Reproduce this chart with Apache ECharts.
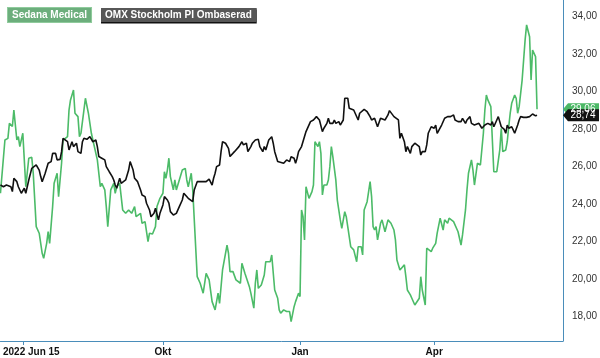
<!DOCTYPE html>
<html>
<head>
<meta charset="utf-8">
<script src="https://cdn.jsdelivr.net/npm/echarts@6/dist/echarts.min.js"></script>
<style>
html,body{margin:0;padding:0;background:#fff;}
#chart{width:600px;height:358px;}
</style>
</head>
<body>
<div id="chart"></div>
<script>
// Start date of the series; points are given as day offsets from it
const startDate = '2022-06-14';
const axisEndDate = '2023-06-26';

const seriesNames = ['Sedana Medical', 'OMX Stockholm PI Ombaserad'];

const sedanaDays = [
0,3,5,6,8,9,11,12,13,15,
16,17,19,21,22,24,26,28,29,31,
32,33,35,36,38,39,41,42,45,46,
47,49,50,52,53,54,56,57,59,60,
61,62,65,67,68,70,71,72,74,76,
77,78,80,82,84,86,88,90,91,94,
95,97,99,100,102,104,105,107,109,110,
111,112,113,114,116,117,118,120,122,124,
125,126,127,128,129,130,132,134,136,138,
140,142,144,146,147,149,152,153,154,156,
158,161,162,164,165,167,168,170,171,172,
173,175,177,178,181,182,184,186,187,188,
190,192,194,195,197,198,200,201,202,203,
204,205,207,209,210,211,212,213,214,215,
216,217,219,220,221,222,223,225,226,228,
229,231,232,233,235,236,237,239,240,242,
243,244,246,248,249,250,251,252,253,255,
256,258,259,260,262,264,265,266,268,269,
271,272,273,275,276,278,279,281,282,283,
285,286,287,289,290,292,293,295,296,297,
298,300,301,302,304,305,307,308,309,310,
312,313,314,316,317,318,319,320,322,323,
324,325,326,327,328,329,330,331,332,333,
335,336,337,339,340,341,342,343,345,346,
347,348,350,351,352,353,355,356,357,358,
359,360];
const sedanaValues = [
24.58,27.42,27.51,28.31,28.14,29.02,27.42,27.60,27.07,27.78,
26.36,24.93,26.45,26.50,25.65,22.80,22.45,21.38,21.11,21.91,
22.53,21.91,23.87,25.11,25.65,24.40,26.18,27.42,27.60,29.02,
29.56,30.09,28.85,28.67,27.60,27.78,29.02,29.65,28.85,28.85,
27.78,27.42,26.36,24.93,25.11,24.76,23.87,22.80,24.76,25.11,
24.58,24.93,25.11,23.69,23.51,23.69,23.51,23.87,23.33,23.51,
22.98,23.07,22.00,22.45,22.41,22.80,23.87,24.31,24.58,25.73,
25.38,25.82,26.45,25.47,24.76,25.29,24.76,25.29,25.82,25.91,
25.29,24.93,25.29,25.65,24.76,24.67,20.13,19.78,19.25,20.31,
19.96,18.80,18.36,19.25,18.71,20.49,21.82,21.38,20.40,20.40,
19.96,19.78,20.85,20.31,20.31,19.60,19.25,18.45,19.78,20.49,
19.51,19.69,20.22,20.93,20.93,21.29,19.42,18.98,18.36,18.18,
18.36,18.27,18.27,17.73,18.53,18.80,19.25,19.07,23.69,23.33,
22.09,24.93,24.31,24.67,25.02,27.33,27.25,27.07,27.33,26.71,
24.49,25.02,25.02,25.29,26.00,27.07,26.53,25.29,24.22,23.16,
22.71,23.60,23.33,22.80,21.73,21.65,21.56,20.93,21.73,21.73,
21.29,23.69,24.13,25.20,24.40,22.80,22.62,22.80,22.09,22.98,
23.16,22.53,22.62,23.16,22.98,22.62,22.09,21.02,20.49,20.58,
20.76,20.13,19.42,19.16,18.98,18.62,18.62,18.98,20.13,19.42,
18.62,21.65,21.56,21.47,21.65,21.91,22.45,23.25,23.16,22.62,
23.16,22.98,23.25,23.25,23.07,22.98,22.53,22.45,21.82,22.36,
23.69,24.76,25.65,26.36,25.82,25.02,25.11,26.18,26.09,26.00,
27.78,29.02,29.82,29.56,29.56,29.20,29.11,25.73,25.73,25.73,
26.89,28.05,26.80,26.89,27.33,28.13,28.85,29.38,29.82,29.65,
28.85,29.20,30.62,31.69,32.76,33.56,32.93,30.62,32.22,32.31,
31.87,29.06];

const omxDays = [
0,2,4,7,8,9,11,12,14,16,
17,19,21,22,24,26,27,28,30,32,
34,35,37,38,40,41,42,43,45,46,
48,49,51,52,54,55,56,58,60,61,
62,64,65,66,68,70,71,73,75,76,
77,78,80,81,82,84,86,87,89,90,
92,94,95,97,98,100,101,103,104,106,
107,109,110,112,113,114,116,118,119,120,
122,123,124,126,127,129,130,132,133,135,
136,138,140,142,143,144,145,147,148,149,
151,153,154,155,157,158,160,162,163,165,
166,168,169,171,173,174,176,177,178,180,
182,183,184,186,187,190,191,192,194,195,
197,198,199,200,202,203,205,206,208,210,
211,212,214,215,216,217,219,220,221,223,
224,225,227,228,230,231,232,233,234,235,
237,238,240,241,242,244,245,246,248,249,
251,252,253,255,256,258,260,261,262,264,
265,267,268,269,270,271,272,273,275,276,
278,279,281,282,283,285,286,287,289,290,
291,292,293,294,296,297,298,300,301,302,
304,305,307,308,309,310,312,313,315,316,
318,319,321,322,323,325,326,327,329,330,
331,333,334,335,336,338,339,340,341,343,
344,345,347,348,349,351,352,353,355,356,
357,359,360];
const omxValues = [
25.02,24.93,25.02,24.93,24.67,25.38,25.20,24.93,24.58,24.85,
24.58,25.29,25.91,25.82,26.09,25.82,25.47,25.20,25.65,26.18,
26.27,26.71,26.71,26.36,26.39,26.80,27.51,27.60,27.33,26.89,
27.33,27.07,27.25,26.80,26.71,27.33,27.51,27.46,27.60,27.57,
27.33,27.42,27.07,26.54,26.45,26.36,26.00,25.73,25.47,25.29,
25.02,24.85,25.38,25.11,25.20,25.29,25.82,26.27,25.82,25.38,
25.20,24.76,24.49,24.40,24.05,23.69,23.33,23.51,23.78,23.16,
23.51,23.96,24.40,24.22,24.05,23.60,23.42,23.51,23.42,23.87,
24.22,24.58,24.67,24.31,24.22,24.13,24.76,25.20,25.29,25.20,
25.29,25.20,25.34,25.02,25.38,25.65,26.00,26.09,26.80,27.33,
27.25,26.98,26.54,26.45,26.80,26.89,27.07,27.33,27.16,27.25,
26.80,27.07,27.25,27.42,27.46,27.07,26.80,27.07,26.89,27.42,
27.60,27.25,26.80,26.27,26.18,26.18,26.09,26.36,26.27,26.53,
26.45,26.18,26.45,26.80,27.07,27.16,27.87,27.96,28.40,28.49,
28.58,28.67,28.49,28.58,27.87,28.05,28.31,28.58,28.31,28.31,
28.49,28.31,28.40,28.22,28.49,29.65,29.70,29.65,29.11,29.11,
29.02,28.93,28.49,28.85,28.85,29.06,29.11,28.93,28.67,28.49,
28.58,28.49,28.13,28.58,28.58,28.49,28.76,28.99,28.93,28.67,
28.63,28.49,27.51,27.78,27.87,27.33,26.80,27.07,26.71,27.07,
27.25,27.16,27.07,26.62,26.80,26.80,27.16,27.78,28.13,28.22,
28.05,28.22,27.78,27.69,28.22,28.31,28.58,28.67,28.76,28.67,
28.76,28.49,28.40,28.49,28.40,28.58,28.31,28.49,28.67,28.31,
28.22,28.22,28.31,28.22,28.05,28.22,28.22,28.31,28.22,28.40,
28.13,28.49,28.67,28.58,28.13,27.99,27.78,28.22,28.05,28.13,
27.96,27.78,28.22,28.49,28.67,28.63,28.71,28.63,28.67,28.67,
28.81,28.71,28.74];

const xTickDates = ['2022-06-29', '2022-10-01', '2023-01-01', '2023-04-01'];
const xTickLabels = ['2022 Jun 15', 'Okt', 'Jan', 'Apr'];
const yTicks = [18, 20, 22, 24, 26, 28, 30, 32, 34];
const yMin = 16.7, yMax = 34.89;

const DAY = 86400000;
function parseDate(s) { const p = s.split('-').map(Number); return Date.UTC(p[0], p[1] - 1, p[2]); }
const t0 = parseDate(startDate);
const dayOf = s => Math.round((parseDate(s) - t0) / DAY);
const xMax = dayOf(axisEndDate) + 0.4;
const xTickDays = xTickDates.map(dayOf);
const toPairs = (days, vals) => days.map((d, i) => [d, vals[i]]);
const fmt = v => v.toFixed(2).replace('.', ',');

const FONT = 'Liberation Sans, Arial, Helvetica, sans-serif';
const AXIS_COLOR = '#4a8dba';
const GREEN = '#4cbb68';

function endMarker(vals, bg) {
  const last = vals[vals.length - 1];
  return {
    silent: true,
    symbol: 'path://M0,6 L5,0 L36,0 L36,12 L5,12 Z',
    symbolSize: [36, 12],
    symbolKeepAspect: false,
    symbolOffset: ['50%', 0],
    itemStyle: { color: bg },
    label: {
      show: true, position: 'inside', offset: [2, 0],
      color: '#fff', fontSize: 10, fontFamily: FONT,
      formatter: p => fmt(p.value)
    },
    data: [{ coord: [xMax, last], value: last }]
  };
}

const chart = echarts.init(document.getElementById('chart'), null, { renderer: 'canvas' });
chart.setOption({
  animation: false,
  backgroundColor: '#fff',
  grid: { left: 0, right: 36, top: 0, bottom: 17, containLabel: false },
  legend: {
    left: -2, top: 2, orient: 'horizontal',
    selectedMode: false,
    icon: 'rect', itemWidth: 0, itemHeight: 0, itemGap: 4,
    data: [
      { name: seriesNames[0], textStyle: {
        color: '#fff', backgroundColor: '#6cae7c', borderColor: '#8fcb9c', borderWidth: 1,
        padding: [2, 4, 1, 4], fontSize: 10, fontWeight: 'bold', fontFamily: FONT, lineHeight: 11 } },
      { name: seriesNames[1], textStyle: {
        color: '#fff', backgroundColor: '#575757',
        shadowColor: '#111', shadowOffsetY: 1.5, shadowBlur: 0,
        padding: [2, 5, 1, 4], fontSize: 10, fontWeight: 'bold', fontFamily: FONT, lineHeight: 11 } }
    ]
  },
  xAxis: {
    type: 'value',
    min: 0, max: xMax,
    axisLine: { show: true, onZero: false, lineStyle: { color: AXIS_COLOR, width: 1 } },
    axisTick: { show: true, customValues: xTickDays, length: 4, lineStyle: { color: AXIS_COLOR } },
    splitLine: { show: false },
    axisLabel: {
      customValues: xTickDays,
      margin: 6,
      fontSize: 10, fontWeight: 'bold', color: '#111', fontFamily: FONT,
      formatter: function (value) {
        const idx = xTickDays.indexOf(value);
        if (idx < 0) return '';
        return idx === 0 ? '{first|' + xTickLabels[0] + '}' : '{n|' + xTickLabels[idx] + '}';
      },
      rich: {
        first: { fontSize: 10, fontWeight: 'bold', color: '#111', fontFamily: FONT, padding: [0, 0, 0, 17] },
        n: { fontSize: 10, fontWeight: 'bold', color: '#111', fontFamily: FONT }
      }
    }
  },
  yAxis: {
    type: 'value',
    position: 'right',
    min: yMin, max: yMax,
    axisLine: { show: true, onZero: false, lineStyle: { color: AXIS_COLOR, width: 1 } },
    axisTick: { show: false },
    splitLine: { show: false },
    axisLabel: {
      customValues: yTicks,
      margin: 9,
      fontSize: 10, color: '#333', fontFamily: FONT,
      formatter: v => fmt(v)
    }
  },
  series: [
    {
      name: seriesNames[0], type: 'line', showSymbol: false, symbol: 'none',
      clip: false,
      color: GREEN,
      lineStyle: { color: GREEN, width: 1.6 },
      data: toPairs(sedanaDays, sedanaValues),
      markPoint: endMarker(sedanaValues, '#4cb866'),
      z: 2
    },
    {
      name: seriesNames[1], type: 'line', showSymbol: false, symbol: 'none',
      clip: false,
      color: '#111',
      lineStyle: { color: '#111', width: 1.6 },
      data: toPairs(omxDays, omxValues),
      markPoint: endMarker(omxValues, '#111'),
      z: 3
    }
  ]
});
</script>
</body>
</html>
